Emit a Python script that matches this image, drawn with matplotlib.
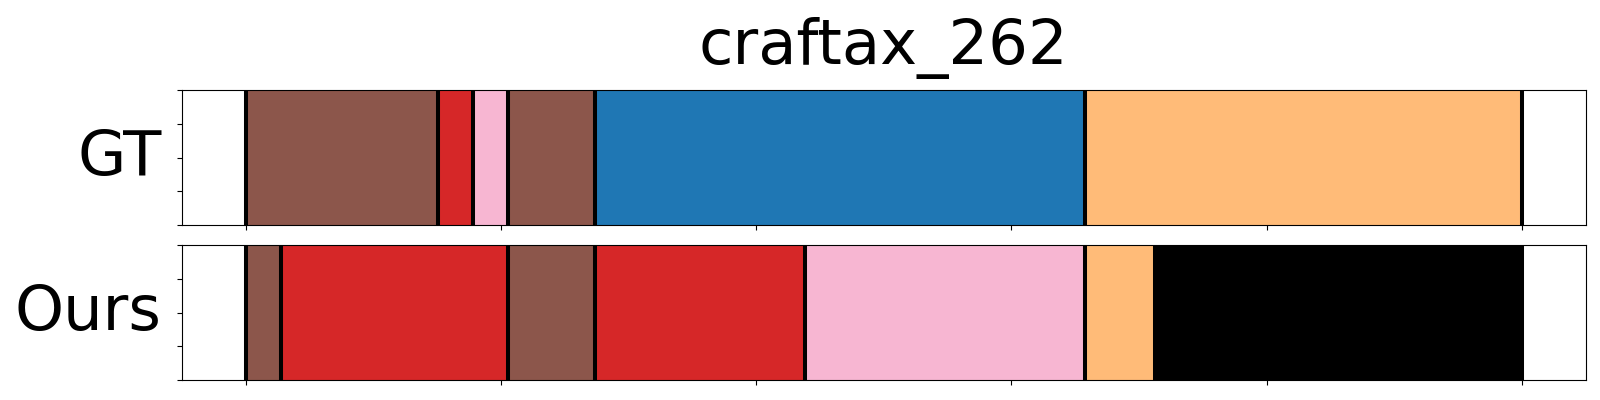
import numpy as np
import matplotlib
matplotlib.use("Agg")
import matplotlib.pyplot as plt

# segment labels and lengths (frames) for each row
gt_labels = ["brown", "red", "pink", "brown", "blue", "orange"]
gt_lengths = [11, 2, 2, 5, 28, 25]
ours_labels = ["brown", "red", "brown", "red", "pink", "orange", "black"]
ours_lengths = [2, 13, 5, 12, 16, 4, 21]

row_names = ["GT", "Ours"]
title = "craftax_262"

colors = {
    "brown": "#8c564b",
    "red": "#d62728",
    "pink": "#f7b6d2",
    "blue": "#1f77b4",
    "orange": "#ffbb78",
    "black": "#000000",
}


def draw_row(ax, labels, lengths):
    bounds = np.concatenate([[0], np.cumsum(lengths)])
    for lab, x0, x1 in zip(labels, bounds[:-1], bounds[1:]):
        ax.axvspan(x0, x1, ymin=0, ymax=1, color=colors[lab], linewidth=0)
    for b in bounds:
        ax.axvline(b, color="black", linewidth=2.9)
    total = bounds[-1]
    ax.set_xlim(-0.05 * total, 1.05 * total)
    ax.set_ylim(0, 1)
    ax.set_xticks(np.linspace(0, total, 6))
    ax.set_yticks([0, 0.25, 0.5, 0.75, 1.0])
    ax.set_xticklabels([])
    ax.set_yticklabels([])


fig = plt.figure(figsize=(16, 4), dpi=100)
ax_gt = fig.add_axes([0.1136, 0.4375, 0.8775, 0.3375])
ax_ours = fig.add_axes([0.1136, 0.05, 0.8775, 0.3368])

draw_row(ax_gt, gt_labels, gt_lengths)
draw_row(ax_ours, ours_labels, ours_lengths)

for ax, name in zip([ax_gt, ax_ours], row_names):
    ax.set_ylabel(name, fontsize=45, rotation=0, ha="right", va="center", labelpad=7.5)

ax_gt.set_title(title, fontsize=45, pad=19)

plt.savefig("out.png", dpi=100)
plt.close()
